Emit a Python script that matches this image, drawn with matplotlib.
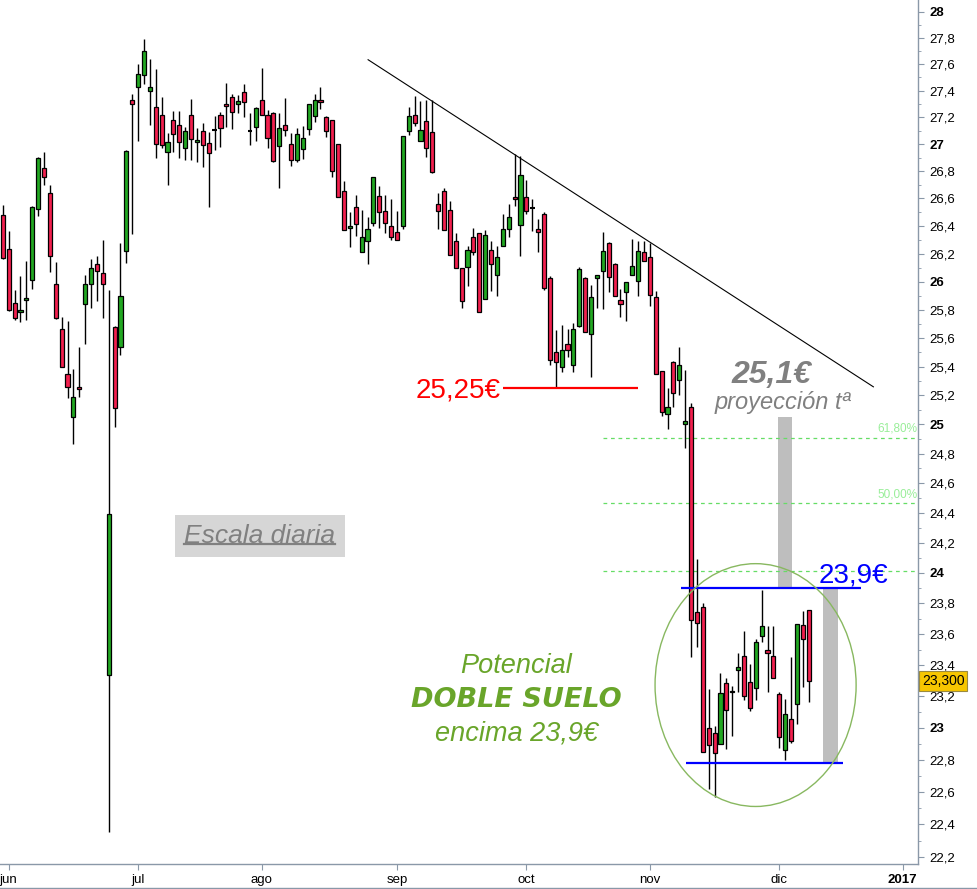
import matplotlib
matplotlib.use('Agg')
import matplotlib.pyplot as plt
from matplotlib.patches import Ellipse
from matplotlib.lines import Line2D
import numpy as np

plt.rcParams['font.family'] = ['Liberation Sans', 'DejaVu Sans']

# velas diarias (sesion 0 = 31-may-2016 ... sesion 137 = 8-dic-2016)
opens = [26.48, 26.23, 25.85, 25.785, 25.87, 26.01, 26.52, 26.82, 26.64, 25.98,
         25.66, 25.35, 25.05, 25.26, 25.84, 25.98, 26.125, 26.06, 23.34, 25.68,
         25.54, 26.22, 27.33, 27.43, 27.52, 27.40, 27.28, 27.22, 26.94, 27.18,
         27.14, 26.97, 27.22, 27.015, 27.10, 27.01, 27.105, 27.215, 27.30, 27.35,
         27.30, 27.39, 27.095, 27.13, 27.33, 27.215, 27.23, 26.985, 27.14, 27.00,
         26.88, 26.965, 27.11, 27.21, 27.33, 27.20, 27.18, 27.00, 26.655, 26.385,
         26.54, 26.21, 26.29, 26.42, 26.62, 26.51, 26.40, 26.355, 26.40, 27.10,
         27.215, 27.02, 27.17, 27.09, 26.56, 26.655, 26.515, 26.29, 26.095, 26.105,
         26.32, 26.35, 25.875, 26.225, 26.045, 26.255, 26.38, 26.61, 26.405, 26.61,
         26.53, 26.38, 26.485, 26.025, 25.50, 25.395, 25.555, 25.41, 25.685, 26.025,
         25.63, 26.025, 26.075, 26.275, 26.125, 25.87, 25.925, 26.045, 26.005, 26.21,
         26.175, 25.89, 25.37, 25.07, 25.43, 25.305, 25.00, 25.12, 23.745, 23.78,
         23.00, 22.97, 22.90, 23.285, 23.227, 23.37, 23.46, 23.29, 23.253, 23.59,
         23.495, 23.458, 23.214, 22.862, 23.055, 23.152, 23.657, 23.756]
highs = [26.55, 26.36, 25.94, 26.04, 26.15, 26.545, 26.905, 26.94, 26.70, 26.14,
         25.75, 25.72, 25.38, 25.54, 26.05, 26.165, 26.185, 26.30, 25.94, 25.685,
         26.28, 26.955, 27.375, 27.60, 27.79, 27.64, 27.56, 27.35, 27.08, 27.25,
         27.25, 27.13, 27.34, 27.12, 27.16, 27.09, 27.21, 27.24, 27.46, 27.375,
         27.365, 27.45, 27.23, 27.275, 27.57, 27.255, 27.24, 27.23, 27.345, 27.08,
         27.12, 27.135, 27.30, 27.375, 27.43, 27.21, 27.18, 27.00, 26.73, 26.50,
         26.625, 26.515, 26.465, 26.76, 26.69, 26.625, 26.595, 26.51, 27.06, 27.275,
         27.36, 27.32, 27.33, 27.33, 26.64, 26.675, 26.58, 26.35, 26.10, 26.255,
         26.385, 26.35, 26.37, 26.29, 26.255, 26.485, 26.56, 26.925, 26.91, 26.735,
         26.595, 26.45, 26.50, 26.04, 25.655, 25.69, 25.665, 25.705, 26.105, 26.03,
         25.975, 26.05, 26.355, 26.285, 26.13, 25.945, 26.00, 26.305, 26.29, 26.29,
         26.275, 25.93, 25.37, 25.25, 25.44, 25.535, 25.375, 25.145, 24.09, 23.80,
         23.25, 23.01, 23.35, 23.32, 23.265, 23.477, 23.62, 23.41, 23.57, 23.885,
         23.65, 23.654, 23.231, 23.182, 23.455, 23.665, 23.754, 23.756]
lows = [26.16, 25.79, 25.73, 25.71, 25.73, 25.95, 26.47, 26.70, 26.07, 25.735,
        25.395, 25.18, 24.865, 25.19, 25.56, 25.815, 25.86, 25.74, 22.35, 24.98,
        25.48, 26.13, 26.34, 27.02, 27.45, 27.145, 26.895, 26.97, 26.70, 26.945,
        26.895, 26.885, 26.885, 26.865, 26.83, 26.535, 26.955, 26.98, 27.125, 27.115,
        27.23, 27.20, 26.995, 27.025, 27.215, 26.97, 26.87, 26.675, 27.06, 26.835,
        26.865, 26.89, 27.065, 27.165, 27.26, 27.055, 26.76, 26.61, 26.37, 26.25,
        26.325, 26.21, 26.125, 26.40, 26.385, 26.35, 26.30, 26.295, 26.38, 27.065,
        27.135, 27.02, 26.905, 26.79, 26.38, 26.37, 26.19, 26.095, 25.81, 25.97,
        26.19, 25.78, 25.875, 25.93, 25.90, 26.255, 26.32, 26.545, 26.18, 26.485,
        26.365, 26.21, 25.94, 25.41, 25.26, 25.36, 25.47, 25.36, 25.68, 25.64,
        25.325, 25.81, 25.805, 25.925, 25.895, 25.75, 25.72, 26.045, 25.90, 26.145,
        25.825, 25.345, 25.06, 24.965, 25.12, 25.20, 24.84, 23.45, 23.52, 22.85,
        22.62, 22.57, 22.90, 22.865, 22.95, 23.23, 23.18, 23.11, 23.178, 23.548,
        23.227, 23.315, 22.872, 22.80, 22.904, 23.025, 23.259, 23.167]
closes = [26.17, 25.80, 25.74, 25.80, 25.885, 26.54, 26.90, 26.76, 26.18, 25.74,
          25.40, 25.26, 25.19, 25.245, 25.98, 26.10, 26.075, 25.98, 24.39, 25.11,
          25.90, 26.95, 27.30, 27.525, 27.70, 27.43, 27.00, 26.99, 27.015, 27.075,
          27.015, 27.10, 27.04, 27.03, 26.99, 26.935, 27.105, 27.12, 27.285, 27.24,
          27.32, 27.315, 27.095, 27.27, 27.22, 27.045, 26.875, 27.12, 27.105, 26.88,
          27.075, 27.045, 27.30, 27.33, 27.315, 27.10, 26.80, 26.61, 26.37, 26.40,
          26.415, 26.32, 26.38, 26.755, 26.50, 26.42, 26.32, 26.30, 27.06, 27.21,
          27.155, 27.105, 26.97, 26.795, 26.51, 26.37, 26.19, 26.095, 25.86, 26.225,
          26.21, 25.785, 26.335, 26.125, 26.175, 26.38, 26.465, 26.595, 26.77, 26.51,
          26.53, 26.355, 25.955, 25.445, 25.43, 25.515, 25.515, 25.66, 26.09, 25.64,
          25.89, 26.045, 26.22, 26.03, 25.897, 25.84, 25.995, 26.11, 26.22, 26.147,
          25.905, 25.347, 25.085, 25.12, 25.215, 25.41, 25.02, 23.69, 23.67, 22.851,
          22.89, 22.84, 23.225, 23.115, 23.237, 23.387, 23.205, 23.125, 23.548, 23.65,
          23.477, 23.317, 22.942, 23.086, 22.916, 23.665, 23.57, 23.30]

month_pos = [1, 23, 44, 67, 89, 110, 132, 153]
month_names = ['jun', 'jul', 'ago', 'sep', 'oct', 'nov', 'dic', '2017']

# niveles dibujados
soporte_oct = 25.25
soporte_oct_x = [85, 108]
trend_x = [62.1, 148.0]
trend_y = [27.633, 25.259]
neckline = 23.9
neckline_x = [115.3, 145.9]
suelo = 22.78
suelo_x = [116.2, 142.8]
objetivo = 25.05
proj_x = [132.9, 140.7]
fib_ratios = [0.382, 0.5, 0.618]
fib_labels = ['', '50,00%', '61,80%']

o = np.array(opens)
h = np.array(highs)
l = np.array(lows)
c = np.array(closes)
x = np.arange(len(o))

fig = plt.figure(figsize=(9.77, 8.89), dpi=100)
ax = fig.add_axes([0, 0.028, 0.9397, 0.972])
ax.set_yscale('log')
ax.set_xlim(-0.48, 155.6)
ax.set_ylim(22.156, 28.09)

green = '#22a822'
red = '#f2204e'

# proyeccion (barras grises)
ax.bar(proj_x[0], objetivo - neckline, bottom=neckline, width=2.4,
       color='#bebebe', zorder=1)
ax.bar(proj_x[1], neckline - suelo, bottom=suelo, width=2.4,
       color='#bebebe', zorder=1)

# fibonacci desde el maximo de octubre al minimo de noviembre
i_max = 100 + int(np.argmax(h[100:]))
f_hi = h[i_max]
f_lo = l[i_max:].min()
for r, lab in zip(fib_ratios, fib_labels):
    lvl = f_lo + r * (f_hi - f_lo)
    ax.hlines(lvl, i_max, 155.6, color='#66dd66', lw=0.9,
              linestyles=(0, (3, 3)), zorder=2)
    if lab:
        ax.text(0.999, lvl * 1.0008, lab, transform=ax.get_yaxis_transform(),
                ha='right', va='bottom', fontsize=8.5, color='#99ee99')

# velas
ax.vlines(x, l, h, color='black', lw=1, zorder=4)
lo_b = np.minimum(o, c)
hi_b = np.maximum(o, c)
up = c > o
dn = c < o
fl = c == o
ax.bar(x[up], hi_b[up] - lo_b[up], bottom=lo_b[up], width=0.7,
       color=green, edgecolor='black', linewidth=0.9, zorder=5)
ax.bar(x[dn], hi_b[dn] - lo_b[dn], bottom=lo_b[dn], width=0.7,
       color=red, edgecolor='black', linewidth=0.9, zorder=5)
ax.hlines(c[fl], x[fl] - 0.4, x[fl] + 0.4, color='black', lw=1.5, zorder=5)

# lineas
ax.plot(trend_x, trend_y, color='black', lw=0.8, zorder=6)
ax.hlines(soporte_oct, *soporte_oct_x, color='#ff0000', lw=1.6, zorder=6)
ax.hlines(neckline, *neckline_x, color='#0000ff', lw=1.6, zorder=6)
ax.hlines(suelo, *suelo_x, color='#0000ff', lw=1.6, zorder=6)

ax.add_patch(Ellipse((0.823, 0.2072), 0.219, 0.281, transform=ax.transAxes,
                     fill=False, ec='#88b860', lw=1, zorder=6))

# textos
ax.text(84.7, 25.183, '25,25€', color='#ff0000', fontsize=20,
        ha='right', va='baseline', zorder=7)
ax.text(130.6, 25.285, '25,1€', color='#808080', fontsize=23,
        fontweight='bold', fontstyle='italic', ha='center', va='baseline', zorder=7)
ax.text(132.6, 25.105, 'proyección tª', color='#808080', fontsize=17,
        fontstyle='italic', ha='center', va='baseline', zorder=7)
ax.text(144.6, 23.935, '23,9€', color='#0000ff', fontsize=20,
        ha='center', va='baseline', zorder=7)

esc = ax.text(43.7, 24.2, 'Escala diaria', color='#808080', fontsize=19,
              fontstyle='italic', ha='center', va='baseline', zorder=7,
              bbox=dict(boxstyle='square,pad=0.35', facecolor='#d6d6d6',
                        edgecolor='none'))

verde = '#69a52a'
ax.text(87.3, 23.351, 'Potencial', color=verde, fontsize=19.5,
        fontstyle='italic', ha='center', va='baseline', zorder=7)
ax.text(87.3, 23.133, 'DOBLE SUELO', color=verde, fontsize=19.5,
        family='DejaVu Sans', fontweight='bold', fontstyle='oblique',
        ha='center', va='baseline', zorder=7)
ax.text(87.3, 22.918, 'encima 23,9€', color=verde, fontsize=19.5,
        fontstyle='italic', ha='center', va='baseline', zorder=7)

# precio actual
ax.text(1.004, c[-1], '23,300', transform=ax.get_yaxis_transform(),
        ha='left', va='center', fontsize=10, color='black', zorder=8,
        bbox=dict(boxstyle='square,pad=0.2', facecolor='#f7c600',
                  edgecolor='#9a8a40', lw=0.8), clip_on=False)

# ejes
axis_col = '#8a98a8'
for s in ['left', 'top']:
    ax.spines[s].set_visible(False)
for s in ['right', 'bottom']:
    ax.spines[s].set_color(axis_col)
    ax.spines[s].set_linewidth(1)

ax.yaxis.tick_right()
major = np.round(np.arange(22.2, 28.01, 0.2), 1)
minor = np.round(np.arange(22.2, 28.05, 0.1), 1)
ax.set_yticks(minor, minor=True)
ax.set_yticks(major)
ax.set_yticklabels([('%d' % v) if abs(v - round(v)) < 1e-6 else
                    ('%.1f' % v).replace('.', ',') for v in major])
ax.yaxis.set_minor_formatter(plt.NullFormatter())
ax.tick_params(axis='y', which='major', direction='out', length=4,
               color=axis_col, labelsize=9.5, pad=4)
ax.tick_params(axis='y', which='minor', direction='out', length=2,
               color=axis_col)
for v, tk in zip(major, ax.yaxis.get_major_ticks()):
    if abs(v - round(v)) < 1e-6:
        tk.label2.set_fontweight('bold')

ax.set_xticks(month_pos)
ax.set_xticklabels(month_names)
ax.tick_params(axis='x', direction='out', length=4, color=axis_col,
               labelsize=9.5, pad=3)
ax.get_xticklabels()[-1].set_fontweight('bold')

# subrayado de "Escala diaria"
fig.canvas.draw()
bb = esc.get_window_extent()
yy = (bb.y0 + 4) / fig.bbox.height
fig.add_artist(Line2D([bb.x0 / fig.bbox.width, bb.x1 / fig.bbox.width],
                      [yy, yy], color='#808080', lw=1.6, zorder=8))
fig.add_artist(Line2D([0, 1], [0.0015, 0.0015], color=axis_col, lw=1))

fig.savefig('out.png', dpi=100)
